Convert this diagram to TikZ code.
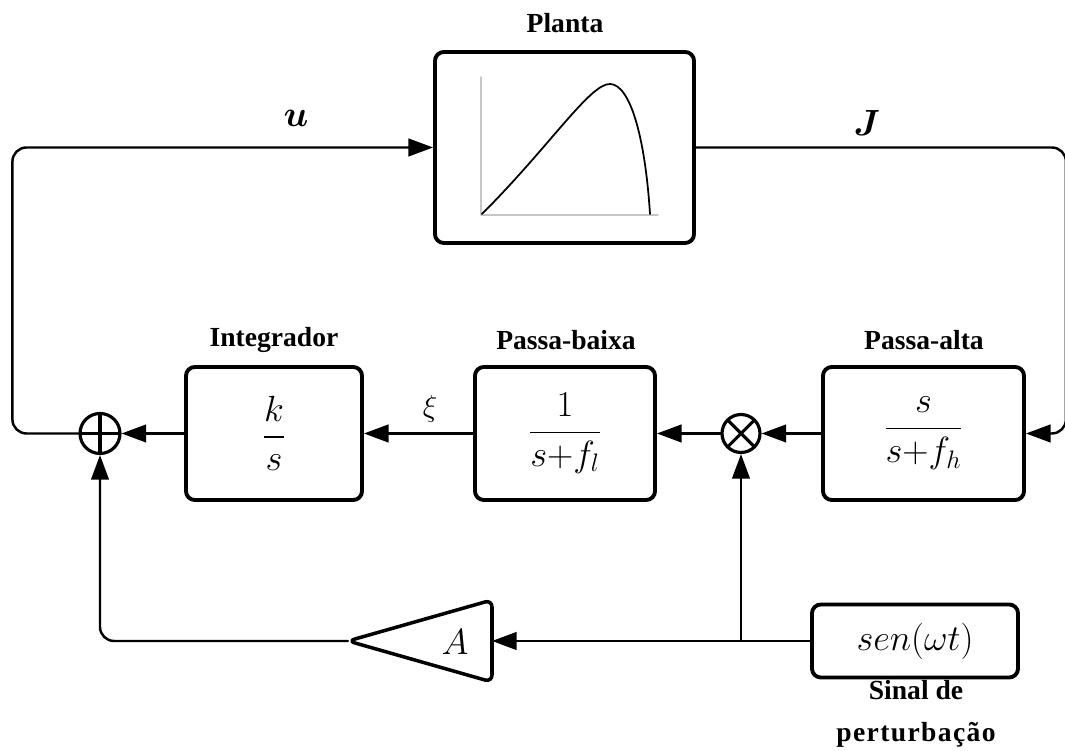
\documentclass[tikz,border=0pt]{standalone}
\usepackage{fontspec}
\setmainfont{Liberation Serif}
\usepackage{amsmath,bm}
\usetikzlibrary{arrows.meta}
\begin{document}
\begin{tikzpicture}[line join=round, line cap=round, >={Triangle[length=14pt,width=10pt]},
	bloco/.style={draw, line width=2.2pt, rounded corners=5pt, inner sep=0pt, font=\fontsize{20}{24}\selectfont},
	rotulo/.style={font=\fontsize{15.7}{24}\selectfont\bfseries},
	fio/.style={line width=1.4pt},
	juncao/.style={draw, circle, line width=1.8pt, minimum size=0.8cm, inner sep=0pt}]
	\useasboundingbox (0,0) rectangle (21.3,15.02);
	
	% Planta
	\node[bloco, minimum width=5.18cm, minimum height=3.82cm] (planta) at (11.29,12.07) {};
	\node[rotulo] (lplanta) at (11.3,14.56) {Planta};
	\draw[gray!45, line width=0.8pt] (9.62,13.48) -- (9.62,10.72) -- (13.16,10.72);
	\draw[line width=1pt] (9.64,10.74) .. controls (11.0,12.1) and (11.8,13.35) .. (12.2,13.34) .. controls (12.6,13.33) and (12.9,12.3) .. (13.0,10.74);
	
	% Filtros e integrador
	\node[bloco, minimum width=3.52cm, minimum height=2.66cm] (integ) at (5.48,6.35) {$\dfrac{k}{s}$};
	\node[bloco, minimum width=3.6cm, minimum height=2.66cm] (pbaixa) at (11.3,6.35) {$\dfrac{1}{s{+}f_l}$};
	\node[bloco, minimum width=4.02cm, minimum height=2.66cm] (palta) at (18.47,6.35) {$\dfrac{s}{s{+}f_h}$};
	\node[rotulo] (linteg) at (5.48,8.22) {Integrador};
	\node[rotulo] (lpbaixa) at (11.32,8.22) {Passa-baixa};
	\node[rotulo] (lpalta) at (18.48,8.22) {Passa-alta};
	
	% Somador e multiplicador
	\node[juncao, path picture={\draw[line width=1.8pt] (path picture bounding box.north) -- (path picture bounding box.south) (path picture bounding box.west) -- (path picture bounding box.east);}] (soma) at (2.0,6.35) {};
	\node[juncao, minimum size=0.76cm, path picture={\draw[line width=1.8pt] (path picture bounding box.north west) -- (path picture bounding box.south east) (path picture bounding box.south west) -- (path picture bounding box.north east);}] (mult) at (14.82,6.35) {};
	
	% Perturbacao e ganho
	\node[bloco, minimum width=4.12cm, minimum height=1.46cm] (sinal) at (18.3,2.2) {$sen(\omega t)$};
	\node[rotulo, align=center] (lsinal) at (18.32,0.75) {Sinal de\\{\addfontfeature{LetterSpace=5}perturbação}};
	\coordinate (ganhoe) at (9.84,2.2);
	\coordinate (ganhow) at (6.96,2.2);
	\draw[line width=2pt, rounded corners=4pt] (ganhow) -- (9.84,3.02) -- (9.84,1.38) -- cycle;
	\node[font=\fontsize{22}{26}\selectfont] (ganho) at (9.1,2.18) {$A$};
	
	% Sinais
	\node[font=\fontsize{22}{26}\selectfont] (lu) at (5.92,12.66) {$\bm{u}$};
	\node[font=\fontsize{22}{26}\selectfont] (lJ) at (17.34,12.55) {$\bm{J}$};
	\node[font=\fontsize{18}{22}\selectfont] (lxi) at (8.6,6.84) {$\xi$};
	
	% Ligacoes
	\draw[fio,->] (integ.west) -- (soma.east);
	\draw[fio,->] (pbaixa.west) -- (integ.east);
	\draw[fio,->] (mult.west) -- (pbaixa.east);
	\draw[fio,->] (palta.west) -- (mult.east);
	\draw[fio,->,rounded corners=8pt] (soma.west) -- ++(-1.32,0) |- (planta.west);
	\draw[fio,->,rounded corners=8pt] (planta.east) -- ++(7.4,0) |- (palta.east);
	\draw[fio,->] (sinal.west) -- (ganhoe);
	\coordinate (ramo) at (mult |- sinal.west);
	\draw[fio,->] (ramo) -- (mult.south);
	\draw[fio,->,rounded corners=8pt] (ganhow) -| (soma.south);
\end{tikzpicture}
\end{document}
